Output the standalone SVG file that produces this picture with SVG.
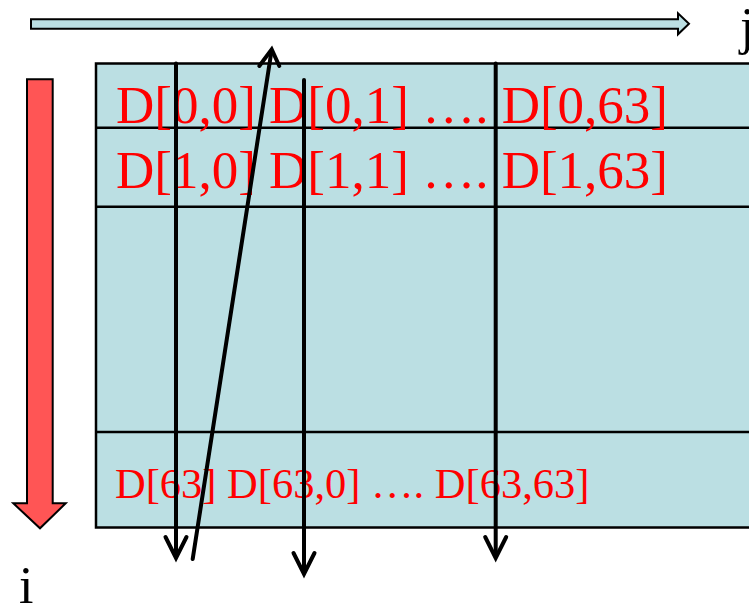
<svg xmlns="http://www.w3.org/2000/svg" width="749" height="606" viewBox="0 0 749 606">
<style>
.grid{fill:none;stroke:#000;stroke-width:2.5}
.lbl{font-family:"Liberation Serif","Times New Roman",serif;fill:#FF0000}
.axis{font-family:"Liberation Serif","Times New Roman",serif;fill:#000;font-size:52px}
.trav{stroke:#000;stroke-width:4;fill:none;stroke-linecap:round}
.head{stroke:#000;stroke-width:4;fill:none;stroke-linecap:round;stroke-linejoin:miter}
</style>
<rect width="749" height="606" fill="#fff"/>
<g id="matrix">
<rect x="96" y="63.5" width="670" height="464" fill="#BBDFE3" stroke="#000" stroke-width="2.5"/>
<line class="grid" x1="96" y1="127.7" x2="749" y2="127.7"/>
<line class="grid" x1="96" y1="206.7" x2="749" y2="206.7"/>
<line class="grid" x1="96" y1="432" x2="749" y2="432"/>
<text class="lbl" x="116" y="123.3" font-size="53">D[0,0] D[0,1] …. D[0,63]</text>
<text class="lbl" x="116" y="188.3" font-size="53">D[1,0] D[1,1] …. D[1,63]</text>
<text class="lbl" x="115" y="498.3" font-size="42.5">D[63] D[63,0] …. D[63,63]</text>
</g>
<g id="j-axis">
<path d="M31,19.3 H678 V13.3 L689,23.8 L678,34.3 V28.7 H31 Z" fill="#BBDFE3" stroke="#000" stroke-width="2"/>
<text class="axis" x="740" y="44">j</text>
</g>
<g id="i-axis">
<path d="M27,79.3 H52.7 V503.3 H65.7 L40,528.3 L13.3,503.3 H27 Z" fill="#FF5555" stroke="#000" stroke-width="2"/>
<text class="axis" x="19" y="603">i</text>
</g>
<g id="connectors">
<line class="trav" x1="176" y1="63.5" x2="176" y2="556"/>
<polyline class="head" points="165.5,537 176,558 186.5,537"/>
<line class="trav" x1="304" y1="80" x2="304" y2="572"/>
<polyline class="head" points="293.5,553 304,574 314.5,553"/>
<line class="trav" x1="495.7" y1="63.5" x2="495.7" y2="556"/>
<polyline class="head" points="485.2,537 495.7,558 506.2,537"/>
<line class="trav" x1="192.7" y1="559" x2="271.5" y2="51"/>
<polyline class="head" points="259.3,66 271.7,49.3 279.3,66"/>
</g>
</svg>
